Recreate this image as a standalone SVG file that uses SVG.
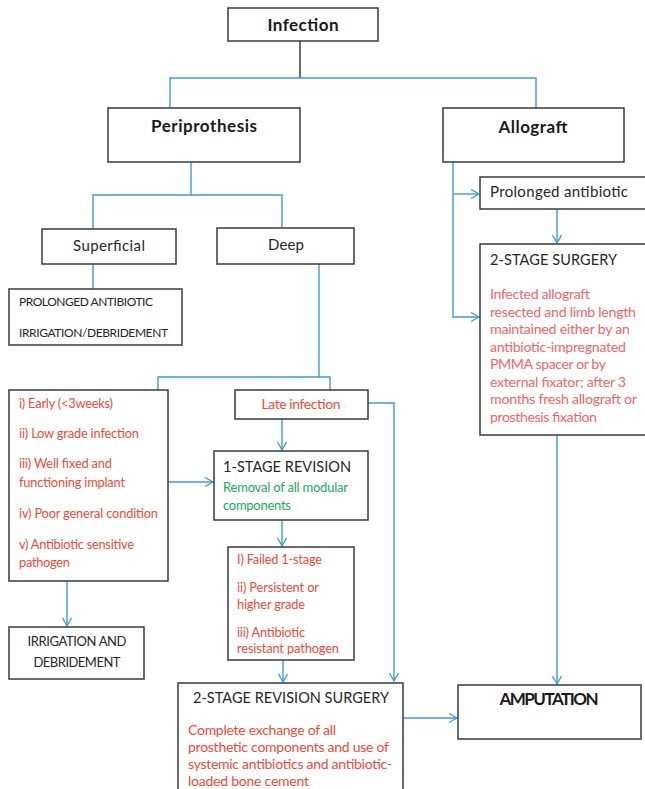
<svg xmlns="http://www.w3.org/2000/svg" width="645" height="789" viewBox="0 0 645 789">
<defs>
<marker id="ah" markerUnits="userSpaceOnUse" markerWidth="12" markerHeight="12" refX="9" refY="5" orient="auto">
<path d="M1,0.5 L9,5 L1,9.5" fill="none" stroke="#3C9BD6" stroke-width="1.3"/>
</marker>
<style>
.box{fill:#fff;stroke:#3a3a3a;stroke-width:1.5}
.c{fill:none;stroke:#3C9BD6;stroke-width:1.4}
.ca{fill:none;stroke:#3C9BD6;stroke-width:1.4;marker-end:url(#ah)}
text{font-family:Lato,"Open Sans","Liberation Sans",sans-serif}
.b{font-weight:bold;fill:#1a1a1a;font-size:17px}
.d{fill:#262626;font-size:14.5px}
.s{fill:#262626;font-size:12px}
.r{fill:#EC4B36;font-size:12.8px}
.rl{fill:#EC4B36;font-size:14px}
.p{fill:#F26665;font-size:14.2px}
.g{fill:#22A95A;font-size:13px}
</style>
</defs>
<g id="connectors">
<path d="M300,41 V78" fill="none" stroke="#3a3a3a" stroke-width="1.5"/>
<path class="c" d="M170,108 V78 H536 V108"/>
<path class="c" d="M191,162 V195"/>
<path class="c" d="M93,229 V195 H282 V228"/>
<path class="ca" d="M93,264 V311"/>
<path class="c" d="M319,264 V377"/>
<path class="c" d="M158,390 V377 H330 V390"/>
<path class="ca" d="M453,162 V317 H479"/>
<path class="ca" d="M453,194 H479"/>
<path class="ca" d="M557,209 V243"/>
<path class="ca" d="M557,435 V684"/>
<path class="ca" d="M368,403 H394 V681"/>
<path class="ca" d="M282,419 V450"/>
<path class="ca" d="M168,482 H213"/>
<path class="ca" d="M67,581 V626"/>
<path class="ca" d="M282,520 V546"/>
<path class="ca" d="M283,660 V682"/>
<path class="ca" d="M403,718 H457"/>
</g>
<g id="infection">
<rect class="box" x="228" y="8" width="150" height="33"/>
<text class="b" x="303" y="31" text-anchor="middle" textLength="71">Infection</text>
</g>
<g id="periprothesis">
<rect class="box" x="108" y="108" width="192" height="54"/>
<text class="b" x="204" y="132" text-anchor="middle" textLength="106">Periprothesis</text>
</g>
<g id="allograft">
<rect class="box" x="443" y="108" width="181" height="54"/>
<text class="b" x="533" y="133" text-anchor="middle" textLength="69">Allograft</text>
</g>
<g id="superficial">
<rect class="box" x="42" y="229" width="134" height="35"/>
<text class="d" x="109" y="251" text-anchor="middle" textLength="72" style="font-size:15px">Superficial</text>
</g>
<g id="deep">
<rect class="box" x="217" y="228" width="137" height="36"/>
<text class="d" x="286" y="250" text-anchor="middle" textLength="36" style="font-size:15px">Deep</text>
</g>
<g id="prolonged-irrigation">
<rect class="box" x="9" y="289" width="173" height="56"/>
<text class="s" x="19" y="306" textLength="134">PROLONGED ANTIBIOTIC</text>
<text class="s" x="19" y="337" textLength="149">IRRIGATION/DEBRIDEMENT</text>
</g>
<g id="early-criteria">
<rect class="box" x="9" y="390" width="159" height="191"/>
<text class="r" x="19" y="408" textLength="94">i) Early (&lt;3weeks)</text>
<text class="r" x="19" y="438" textLength="120">ii) Low grade infection</text>
<text class="r" x="19" y="468" textLength="93">iii) Well fixed and</text>
<text class="r" x="19" y="487" textLength="106">functioning implant</text>
<text class="r" x="19" y="518" textLength="139">iv) Poor general condition</text>
<text class="r" x="19" y="549" textLength="115">v) Antibiotic sensitive</text>
<text class="r" x="19" y="567" textLength="51">pathogen</text>
</g>
<g id="irrigation-debridement">
<rect class="box" x="9" y="627" width="135" height="52"/>
<text class="s" x="77" y="646" text-anchor="middle" textLength="99" style="font-size:13px">IRRIGATION AND</text>
<text class="s" x="77" y="667" text-anchor="middle" textLength="87" style="font-size:13px">DEBRIDEMENT</text>
</g>
<g id="late-infection">
<rect class="box" x="235" y="390" width="133" height="29"/>
<text class="rl" x="301" y="409" text-anchor="middle" textLength="79">Late infection</text>
</g>
<g id="one-stage">
<rect class="box" x="214" y="451" width="154" height="69"/>
<text class="d" x="223" y="472" textLength="128">1-STAGE REVISION</text>
<text class="g" x="223" y="492" textLength="125">Removal of all modular</text>
<text class="g" x="223" y="510" textLength="68">components</text>
</g>
<g id="late-criteria">
<rect class="box" x="228" y="547" width="126" height="113"/>
<text class="r" x="237" y="564" textLength="85">I) Failed 1-stage</text>
<text class="r" x="237" y="592" textLength="82">ii) Persistent or</text>
<text class="r" x="237" y="609" textLength="68">higher grade</text>
<text class="r" x="237" y="637" textLength="68">iii) Antibiotic</text>
<text class="r" x="237" y="653" textLength="102">resistant pathogen</text>
</g>
<g id="two-stage-revision">
<rect class="box" x="178" y="683" width="225" height="120"/>
<text class="d" x="291" y="703" text-anchor="middle" textLength="196">2-STAGE REVISION SURGERY</text>
<text class="rl" x="188" y="735" textLength="148">Complete exchange of all</text>
<text class="rl" x="188" y="752" textLength="201">prosthetic components and use of</text>
<text class="rl" x="188" y="769" textLength="204">systemic antibiotics and antibiotic-</text>
<text class="rl" x="188" y="786" textLength="121">loaded bone cement</text>
</g>
<g id="prolonged-antibiotic">
<rect class="box" x="480" y="177" width="180" height="32"/>
<text class="d" x="490" y="197" textLength="138" style="font-size:15px">Prolonged antibiotic</text>
</g>
<g id="two-stage-surgery">
<rect class="box" x="480" y="244" width="180" height="191"/>
<text class="d" x="490" y="265" textLength="127">2-STAGE SURGERY</text>
<text class="p" x="490" y="299" textLength="100">Infected allograft</text>
<text class="p" x="490" y="317" textLength="146">resected and limb length</text>
<text class="p" x="490" y="334" textLength="140">maintained either by an</text>
<text class="p" x="490" y="352" textLength="136">antibiotic-impregnated</text>
<text class="p" x="490" y="369" textLength="116">PMMA spacer or by</text>
<text class="p" x="490" y="387" textLength="136">external fixator; after 3</text>
<text class="p" x="490" y="404" textLength="147">months fresh allograft or</text>
<text class="p" x="490" y="422" textLength="107">prosthesis fixation</text>
</g>
<g id="amputation">
<rect class="box" x="458" y="685" width="183" height="54"/>
<text class="b" x="549" y="705" text-anchor="middle" textLength="99">AMPUTATION</text>
</g>
</svg>
